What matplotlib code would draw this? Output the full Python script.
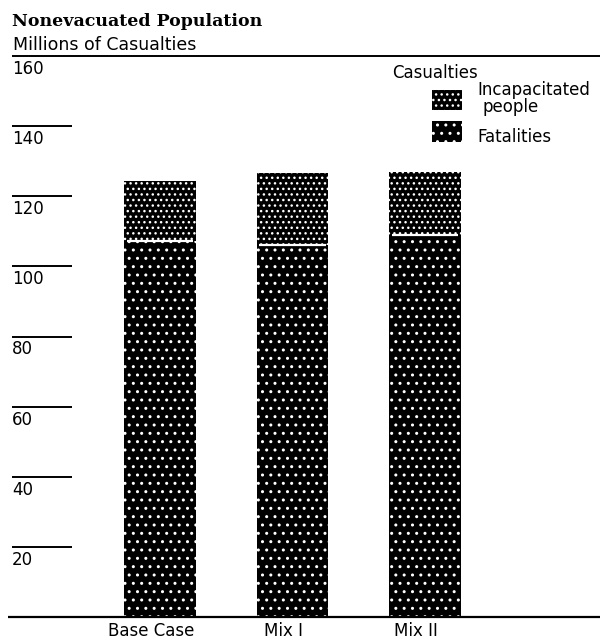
import matplotlib
matplotlib.use("Agg")
import matplotlib.pyplot as plt
from matplotlib.patches import Rectangle
from matplotlib.transforms import offset_copy

scenarios = ["Base Case", "Mix I", "Mix II"]
fatalities = [107.2, 106.1, 109.0]
incapacitated = [17.2, 20.5, 17.9]
y_ticks = [0, 20, 40, 60, 80, 100, 120, 140, 160]

W, H = 602, 640
SANS = "DejaVu Sans"
SERIF = "DejaVu Serif"

plt.rcParams["hatch.linewidth"] = 1.0

fig = plt.figure(figsize=(W / 100, H / 100), dpi=100)


def fx(x):
    return x / W


def fy(y):
    return 1 - y / H


ax = fig.add_axes([fx(5), fy(617), 595 / W, 561 / H])
ax.set_xlim(-1.17, 3.32)
ax.set_ylim(0, 160)
ax.axis("off")

xpos = list(range(len(scenarios)))

# stippled bars: black face, white dot hatch
ax.bar(xpos, fatalities, width=0.54, color="black", edgecolor="white",
       linewidth=0, hatch="..")
ax.bar(xpos, incapacitated, bottom=fatalities, width=0.54, color="black",
       edgecolor="white", linewidth=0, hatch="...")
ax.hlines(fatalities, [x - 0.25 for x in xpos], [x + 0.25 for x in xpos],
          color="white", lw=1.6)

# y scale: short rules with the number hanging underneath
ytr = ax.get_yaxis_transform()
for v in y_ticks:
    if v == 0:
        ax.hlines(v, 3 / 595, 1.0, transform=ytr, color="black", lw=1.6, clip_on=False)
        continue
    if v == 160:
        ax.hlines(v, 7 / 595, 1.0, transform=ytr, color="black", lw=1.4, clip_on=False)
    else:
        ax.hlines(v, 7 / 595, 67 / 595, transform=ytr, color="black", lw=1.4, clip_on=False)
    lab_tr = offset_copy(ytr, fig=fig, x=0, y=-18, units="dots")
    ax.text(7 / 595, v, str(v), transform=lab_tr, ha="left", va="baseline",
            fontsize=12, family=SANS)

# category names under the bars
for x, name in zip(xpos, scenarios):
    name_tr = offset_copy(ax.transData, fig=fig, x=-9, y=-19, units="dots")
    ax.text(x, 0, name, transform=name_tr, ha="center", va="baseline",
            fontsize=12, family=SANS)

# headings
fig.text(fx(12), fy(26), "Nonevacuated Population", ha="left", va="baseline",
         fontsize=12.5, family=SERIF, weight="bold")
fig.text(fx(13), fy(50), "Millions of Casualties", ha="left", va="baseline",
         fontsize=12.5, family=SANS)

# legend
fig.text(fx(392), fy(78), "Casualties", ha="left", va="baseline",
         fontsize=12, family=SANS)
fig.add_artist(Rectangle((fx(432), fy(110)), 30 / W, 20 / H, transform=fig.transFigure,
                         facecolor="black", edgecolor="white", linewidth=0, hatch="..."))
fig.add_artist(Rectangle((fx(432), fy(142)), 30 / W, 21 / H, transform=fig.transFigure,
                         facecolor="black", edgecolor="white", linewidth=0, hatch=".."))
fig.text(fx(477), fy(95), "Incapacitated", ha="left", va="baseline",
         fontsize=12, family=SANS)
fig.text(fx(483), fy(112), "people", ha="left", va="baseline",
         fontsize=12, family=SANS)
fig.text(fx(477), fy(142), "Fatalities", ha="left", va="baseline",
         fontsize=12, family=SANS)

fig.savefig("out.png", dpi=100)
